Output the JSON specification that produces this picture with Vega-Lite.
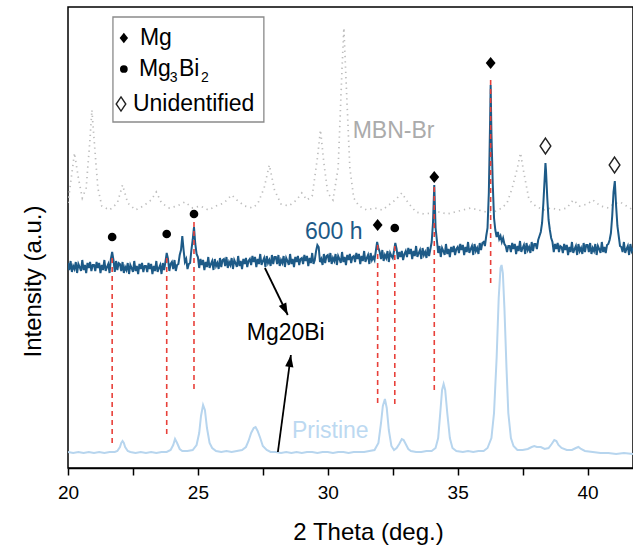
{
  "$schema": "https://vega.github.io/schema/vega-lite/v6.json",
  "width": 565,
  "height": 461,
  "autosize": "none",
  "padding": {"left": 68, "top": 7, "right": 0, "bottom": 79},
  "background": "white",
  "config": {
    "view": {"stroke": "black", "strokeWidth": 1.5},
    "font": "Liberation Sans"
  },
  "datasets": {
    "mbn": [
      {"x":20.0,"y":265},{"x":20.1,"y":285},{"x":20.25,"y":315},{"x":20.4,"y":290},{"x":20.55,"y":270},{"x":20.7,"y":280},{"x":20.85,"y":330},{"x":20.92,"y":358},{"x":21.0,"y":330},{"x":21.15,"y":280},{"x":21.3,"y":262},{"x":21.6,"y":258},{"x":21.9,"y":265},{"x":22.1,"y":283},{"x":22.3,"y":265},{"x":22.6,"y":258},{"x":22.9,"y":262},{"x":23.2,"y":268},{"x":23.4,"y":276},{"x":23.6,"y":265},{"x":23.9,"y":260},{"x":24.2,"y":262},{"x":24.5,"y":266},{"x":24.8,"y":260},{"x":25.1,"y":262},{"x":25.4,"y":258},{"x":25.7,"y":262},{"x":26.0,"y":265},{"x":26.3,"y":273},{"x":26.5,"y":268},{"x":26.8,"y":262},{"x":27.1,"y":260},{"x":27.3,"y":264},{"x":27.55,"y":280},{"x":27.75,"y":303},{"x":27.95,"y":278},{"x":28.2,"y":264},{"x":28.5,"y":262},{"x":28.8,"y":268},{"x":29.0,"y":275},{"x":29.2,"y":268},{"x":29.4,"y":272},{"x":29.6,"y":310},{"x":29.72,"y":338},{"x":29.85,"y":305},{"x":30.0,"y":275},{"x":30.2,"y":268},{"x":30.4,"y":300},{"x":30.55,"y":400},{"x":30.62,"y":440},{"x":30.7,"y":390},{"x":30.85,"y":300},{"x":31.0,"y":270},{"x":31.2,"y":262},{"x":31.5,"y":258},{"x":31.8,"y":260},{"x":32.1,"y":258},{"x":32.3,"y":262},{"x":32.6,"y":268},{"x":32.85,"y":275},{"x":33.1,"y":265},{"x":33.4,"y":256},{"x":33.7,"y":254},{"x":34.0,"y":255},{"x":34.3,"y":256},{"x":34.6,"y":254},{"x":34.9,"y":256},{"x":35.2,"y":258},{"x":35.5,"y":260},{"x":35.8,"y":258},{"x":36.1,"y":256},{"x":36.4,"y":256},{"x":36.7,"y":260},{"x":36.9,"y":265},{"x":37.1,"y":280},{"x":37.3,"y":300},{"x":37.42,"y":315},{"x":37.55,"y":295},{"x":37.75,"y":268},{"x":38.0,"y":262},{"x":38.3,"y":258},{"x":38.6,"y":260},{"x":38.9,"y":258},{"x":39.2,"y":260},{"x":39.45,"y":268},{"x":39.7,"y":262},{"x":40.0,"y":264},{"x":40.2,"y":268},{"x":40.5,"y":262},{"x":40.8,"y":260},{"x":41.0,"y":264},{"x":41.25,"y":266},{"x":41.5,"y":262},{"x":41.75,"y":258}
    ],
    "pristine": [
      {"x":20.0,"y":16},{"x":20.2,"y":15},{"x":20.4,"y":16},{"x":20.6,"y":15},{"x":20.8,"y":16},{"x":21.0,"y":15},{"x":21.2,"y":16},{"x":21.4,"y":15},{"x":21.6,"y":16},{"x":21.8,"y":16},{"x":21.9,"y":17},{"x":22.0,"y":21},{"x":22.05,"y":25},{"x":22.1,"y":27},{"x":22.15,"y":25},{"x":22.2,"y":21},{"x":22.3,"y":17},{"x":22.4,"y":16},{"x":22.6,"y":15},{"x":22.8,"y":16},{"x":23.0,"y":15},{"x":23.2,"y":16},{"x":23.4,"y":15},{"x":23.6,"y":16},{"x":23.8,"y":16},{"x":23.95,"y":18},{"x":24.05,"y":23},{"x":24.12,"y":29},{"x":24.2,"y":25},{"x":24.3,"y":19},{"x":24.4,"y":17},{"x":24.6,"y":17},{"x":24.8,"y":18},{"x":24.95,"y":23},{"x":25.05,"y":35},{"x":25.12,"y":52},{"x":25.2,"y":63},{"x":25.27,"y":58},{"x":25.35,"y":40},{"x":25.45,"y":25},{"x":25.55,"y":20},{"x":25.7,"y":17},{"x":25.9,"y":16},{"x":26.1,"y":17},{"x":26.3,"y":16},{"x":26.5,"y":17},{"x":26.7,"y":18},{"x":26.85,"y":21},{"x":26.95,"y":27},{"x":27.05,"y":35},{"x":27.15,"y":40},{"x":27.22,"y":41},{"x":27.3,"y":37},{"x":27.4,"y":30},{"x":27.5,"y":22},{"x":27.65,"y":18},{"x":27.8,"y":16},{"x":28.0,"y":16},{"x":28.2,"y":15},{"x":28.4,"y":16},{"x":28.6,"y":15},{"x":28.8,"y":16},{"x":29.0,"y":15},{"x":29.2,"y":16},{"x":29.4,"y":16},{"x":29.6,"y":15},{"x":29.8,"y":16},{"x":30.0,"y":16},{"x":30.2,"y":15},{"x":30.4,"y":16},{"x":30.6,"y":16},{"x":30.8,"y":15},{"x":31.0,"y":16},{"x":31.2,"y":16},{"x":31.4,"y":16},{"x":31.6,"y":17},{"x":31.8,"y":18},{"x":31.95,"y":25},{"x":32.05,"y":45},{"x":32.12,"y":62},{"x":32.2,"y":69},{"x":32.27,"y":60},{"x":32.35,"y":38},{"x":32.45,"y":22},{"x":32.55,"y":18},{"x":32.65,"y":20},{"x":32.75,"y":24},{"x":32.85,"y":29},{"x":32.92,"y":28},{"x":33.0,"y":24},{"x":33.1,"y":19},{"x":33.2,"y":17},{"x":33.4,"y":16},{"x":33.6,"y":16},{"x":33.8,"y":17},{"x":34.0,"y":17},{"x":34.15,"y":20},{"x":34.25,"y":30},{"x":34.33,"y":55},{"x":34.4,"y":78},{"x":34.46,"y":84},{"x":34.52,"y":78},{"x":34.6,"y":55},{"x":34.7,"y":30},{"x":34.8,"y":20},{"x":34.95,"y":17},{"x":35.2,"y":16},{"x":35.4,"y":17},{"x":35.6,"y":16},{"x":35.8,"y":17},{"x":36.0,"y":17},{"x":36.15,"y":20},{"x":36.3,"y":30},{"x":36.4,"y":55},{"x":36.5,"y":110},{"x":36.58,"y":170},{"x":36.65,"y":200},{"x":36.69,"y":203},{"x":36.74,"y":195},{"x":36.8,"y":160},{"x":36.88,"y":100},{"x":36.95,"y":55},{"x":37.05,"y":30},{"x":37.15,"y":22},{"x":37.3,"y":18},{"x":37.5,"y":18},{"x":37.7,"y":19},{"x":37.85,"y":21},{"x":37.95,"y":22},{"x":38.05,"y":21},{"x":38.2,"y":21},{"x":38.35,"y":19},{"x":38.5,"y":20},{"x":38.62,"y":24},{"x":38.72,"y":28},{"x":38.8,"y":27},{"x":38.88,"y":23},{"x":39.0,"y":20},{"x":39.2,"y":18},{"x":39.4,"y":18},{"x":39.55,"y":20},{"x":39.65,"y":21},{"x":39.75,"y":19},{"x":39.9,"y":17},{"x":40.2,"y":16},{"x":40.5,"y":15},{"x":40.8,"y":15},{"x":41.1,"y":14},{"x":41.4,"y":15},{"x":41.75,"y":14}
    ],
    "h600": [
      {"x":20.00,"y":205},{"x":20.05,"y":198},{"x":20.10,"y":207},{"x":20.15,"y":196},{"x":20.20,"y":202},{"x":20.25,"y":199},{"x":20.30,"y":206},{"x":20.35,"y":195},{"x":20.40,"y":204},{"x":20.45,"y":201},{"x":20.50,"y":197},{"x":20.55,"y":208},{"x":20.60,"y":198},{"x":20.65,"y":203},{"x":20.70,"y":195},{"x":20.75,"y":205},{"x":20.80,"y":200},{"x":20.85,"y":206},{"x":20.90,"y":197},{"x":20.95,"y":203},
      {"x":21.00,"y":203},{"x":21.05,"y":197},{"x":21.10,"y":206},{"x":21.15,"y":200},{"x":21.20,"y":205},{"x":21.25,"y":195},{"x":21.30,"y":203},{"x":21.35,"y":198},{"x":21.40,"y":208},{"x":21.45,"y":197},{"x":21.50,"y":201},{"x":21.55,"y":204},{"x":21.60,"y":195},{"x":21.65,"y":209},{"x":21.70,"y":216},{"x":21.75,"y":208},{"x":21.80,"y":196},{"x":21.85,"y":207},{"x":21.90,"y":198},{"x":21.95,"y":205},
      {"x":22.00,"y":204},{"x":22.05,"y":197},{"x":22.10,"y":206},{"x":22.15,"y":195},{"x":22.20,"y":201},{"x":22.25,"y":198},{"x":22.30,"y":205},{"x":22.35,"y":194},{"x":22.40,"y":203},{"x":22.45,"y":200},{"x":22.50,"y":196},{"x":22.55,"y":207},{"x":22.60,"y":197},{"x":22.65,"y":202},{"x":22.70,"y":194},{"x":22.75,"y":204},{"x":22.80,"y":199},{"x":22.85,"y":205},{"x":22.90,"y":196},{"x":22.95,"y":202},
      {"x":23.00,"y":202},{"x":23.05,"y":196},{"x":23.10,"y":205},{"x":23.15,"y":199},{"x":23.20,"y":204},{"x":23.25,"y":194},{"x":23.30,"y":202},{"x":23.35,"y":197},{"x":23.40,"y":207},{"x":23.45,"y":196},{"x":23.50,"y":200},{"x":23.55,"y":203},{"x":23.60,"y":194},{"x":23.65,"y":205},{"x":23.70,"y":198},{"x":23.75,"y":206},{"x":23.80,"y":215},{"x":23.85,"y":209},{"x":23.90,"y":197},{"x":23.95,"y":204},
      {"x":24.00,"y":206},{"x":24.05,"y":199},{"x":24.10,"y":208},{"x":24.15,"y":197},{"x":24.20,"y":203},{"x":24.25,"y":204},{"x":24.30,"y":213},{"x":24.35,"y":218},{"x":24.40,"y":232},{"x":24.45,"y":218},{"x":24.50,"y":206},{"x":24.55,"y":209},{"x":24.60,"y":199},{"x":24.65,"y":204},{"x":24.70,"y":205},{"x":24.75,"y":218},{"x":24.80,"y":228},{"x":24.85,"y":241},{"x":24.90,"y":224},{"x":24.95,"y":214},
      {"x":25.00,"y":211},{"x":25.05,"y":200},{"x":25.10,"y":209},{"x":25.15,"y":203},{"x":25.20,"y":208},{"x":25.25,"y":198},{"x":25.30,"y":206},{"x":25.35,"y":201},{"x":25.40,"y":211},{"x":25.45,"y":200},{"x":25.50,"y":204},{"x":25.55,"y":207},{"x":25.60,"y":198},{"x":25.65,"y":209},{"x":25.70,"y":202},{"x":25.75,"y":205},{"x":25.80,"y":199},{"x":25.85,"y":210},{"x":25.90,"y":201},{"x":25.95,"y":208},
      {"x":26.00,"y":209},{"x":26.05,"y":202},{"x":26.10,"y":211},{"x":26.15,"y":200},{"x":26.20,"y":206},{"x":26.25,"y":203},{"x":26.30,"y":210},{"x":26.35,"y":199},{"x":26.40,"y":208},{"x":26.45,"y":205},{"x":26.50,"y":201},{"x":26.55,"y":212},{"x":26.60,"y":202},{"x":26.65,"y":207},{"x":26.70,"y":199},{"x":26.75,"y":209},{"x":26.80,"y":204},{"x":26.85,"y":210},{"x":26.90,"y":201},{"x":26.95,"y":207},
      {"x":27.00,"y":209},{"x":27.05,"y":203},{"x":27.10,"y":212},{"x":27.15,"y":206},{"x":27.20,"y":211},{"x":27.25,"y":201},{"x":27.30,"y":209},{"x":27.35,"y":204},{"x":27.40,"y":214},{"x":27.45,"y":203},{"x":27.50,"y":207},{"x":27.55,"y":210},{"x":27.60,"y":201},{"x":27.65,"y":212},{"x":27.70,"y":205},{"x":27.75,"y":208},{"x":27.80,"y":202},{"x":27.85,"y":213},{"x":27.90,"y":204},{"x":27.95,"y":211},
      {"x":28.00,"y":211},{"x":28.05,"y":204},{"x":28.10,"y":213},{"x":28.15,"y":202},{"x":28.20,"y":208},{"x":28.25,"y":205},{"x":28.30,"y":212},{"x":28.35,"y":201},{"x":28.40,"y":210},{"x":28.45,"y":207},{"x":28.50,"y":203},{"x":28.55,"y":214},{"x":28.60,"y":204},{"x":28.65,"y":209},{"x":28.70,"y":201},{"x":28.75,"y":211},{"x":28.80,"y":206},{"x":28.85,"y":212},{"x":28.90,"y":203},{"x":28.95,"y":209},
      {"x":29.00,"y":210},{"x":29.05,"y":204},{"x":29.10,"y":213},{"x":29.15,"y":207},{"x":29.20,"y":212},{"x":29.25,"y":202},{"x":29.30,"y":210},{"x":29.35,"y":205},{"x":29.40,"y":215},{"x":29.45,"y":204},{"x":29.50,"y":208},{"x":29.55,"y":217},{"x":29.60,"y":223},{"x":29.65,"y":221},{"x":29.70,"y":206},{"x":29.75,"y":209},{"x":29.80,"y":203},{"x":29.85,"y":214},{"x":29.90,"y":205},{"x":29.95,"y":212},
      {"x":30.00,"y":213},{"x":30.05,"y":206},{"x":30.10,"y":215},{"x":30.15,"y":204},{"x":30.20,"y":210},{"x":30.25,"y":207},{"x":30.30,"y":214},{"x":30.35,"y":203},{"x":30.40,"y":212},{"x":30.45,"y":209},{"x":30.50,"y":205},{"x":30.55,"y":216},{"x":30.60,"y":206},{"x":30.65,"y":211},{"x":30.70,"y":203},{"x":30.75,"y":213},{"x":30.80,"y":208},{"x":30.85,"y":214},{"x":30.90,"y":205},{"x":30.95,"y":211},
      {"x":31.00,"y":212},{"x":31.05,"y":206},{"x":31.10,"y":215},{"x":31.15,"y":209},{"x":31.20,"y":214},{"x":31.25,"y":204},{"x":31.30,"y":212},{"x":31.35,"y":207},{"x":31.40,"y":217},{"x":31.45,"y":206},{"x":31.50,"y":210},{"x":31.55,"y":213},{"x":31.60,"y":204},{"x":31.65,"y":215},{"x":31.70,"y":208},{"x":31.75,"y":211},{"x":31.80,"y":208},{"x":31.85,"y":217},{"x":31.90,"y":226},{"x":31.95,"y":220},
      {"x":32.00,"y":216},{"x":32.05,"y":209},{"x":32.10,"y":218},{"x":32.15,"y":207},{"x":32.20,"y":213},{"x":32.25,"y":210},{"x":32.30,"y":217},{"x":32.35,"y":206},{"x":32.40,"y":215},{"x":32.45,"y":212},{"x":32.50,"y":210},{"x":32.55,"y":217},{"x":32.60,"y":225},{"x":32.65,"y":219},{"x":32.70,"y":209},{"x":32.75,"y":216},{"x":32.80,"y":211},{"x":32.85,"y":217},{"x":32.90,"y":208},{"x":32.95,"y":214},
      {"x":33.00,"y":217},{"x":33.05,"y":211},{"x":33.10,"y":220},{"x":33.15,"y":214},{"x":33.20,"y":219},{"x":33.25,"y":209},{"x":33.30,"y":217},{"x":33.35,"y":212},{"x":33.40,"y":222},{"x":33.45,"y":211},{"x":33.50,"y":215},{"x":33.55,"y":218},{"x":33.60,"y":209},{"x":33.65,"y":220},{"x":33.70,"y":213},{"x":33.75,"y":216},{"x":33.80,"y":210},{"x":33.85,"y":221},{"x":33.90,"y":212},{"x":33.95,"y":219},
      {"x":34.00,"y":226},{"x":34.05,"y":245},{"x":34.10,"y":283},{"x":34.15,"y":240},{"x":34.20,"y":228},{"x":34.25,"y":215},{"x":34.30,"y":222},{"x":34.35,"y":211},{"x":34.40,"y":220},{"x":34.45,"y":217},{"x":34.50,"y":213},{"x":34.55,"y":224},{"x":34.60,"y":214},{"x":34.65,"y":219},{"x":34.70,"y":211},{"x":34.75,"y":221},{"x":34.80,"y":216},{"x":34.85,"y":222},{"x":34.90,"y":213},{"x":34.95,"y":219},
      {"x":35.00,"y":221},{"x":35.05,"y":215},{"x":35.10,"y":224},{"x":35.15,"y":218},{"x":35.20,"y":223},{"x":35.25,"y":213},{"x":35.30,"y":221},{"x":35.35,"y":216},{"x":35.40,"y":226},{"x":35.45,"y":215},{"x":35.50,"y":219},{"x":35.55,"y":222},{"x":35.60,"y":213},{"x":35.65,"y":224},{"x":35.70,"y":217},{"x":35.75,"y":220},{"x":35.80,"y":214},{"x":35.85,"y":225},{"x":35.90,"y":218},{"x":35.95,"y":225},
      {"x":36.00,"y":226},{"x":36.05,"y":222},{"x":36.10,"y":232},{"x":36.15,"y":240},{"x":36.20,"y":275},{"x":36.25,"y":348},{"x":36.27,"y":383},{"x":36.30,"y":335},{"x":36.35,"y":285},{"x":36.40,"y":250},{"x":36.45,"y":238},{"x":36.50,"y":231},{"x":36.55,"y":236},{"x":36.60,"y":229},{"x":36.65,"y":232},{"x":36.70,"y":226},{"x":36.75,"y":230},{"x":36.80,"y":224},{"x":36.85,"y":222},{"x":36.90,"y":216},{"x":36.95,"y":222},
      {"x":37.00,"y":222},{"x":37.05,"y":216},{"x":37.10,"y":225},{"x":37.15,"y":219},{"x":37.20,"y":224},{"x":37.25,"y":214},{"x":37.30,"y":222},{"x":37.35,"y":217},{"x":37.40,"y":227},{"x":37.45,"y":216},{"x":37.50,"y":220},{"x":37.55,"y":223},{"x":37.60,"y":214},{"x":37.65,"y":225},{"x":37.70,"y":218},{"x":37.75,"y":221},{"x":37.80,"y":215},{"x":37.85,"y":226},{"x":37.90,"y":217},{"x":37.95,"y":224},
      {"x":38.00,"y":224},{"x":38.05,"y":219},{"x":38.10,"y":228},{"x":38.15,"y":232},{"x":38.20,"y":236},{"x":38.25,"y":245},{"x":38.30,"y":265},{"x":38.35,"y":290},{"x":38.38,"y":305},{"x":38.40,"y":298},{"x":38.45,"y":270},{"x":38.50,"y":248},{"x":38.55,"y":238},{"x":38.60,"y":230},{"x":38.65,"y":226},{"x":38.70,"y":216},{"x":38.75,"y":224},{"x":38.80,"y":219},{"x":38.85,"y":225},{"x":38.90,"y":216},{"x":38.95,"y":222},
      {"x":39.00,"y":221},{"x":39.05,"y":215},{"x":39.10,"y":224},{"x":39.15,"y":218},{"x":39.20,"y":223},{"x":39.25,"y":213},{"x":39.30,"y":221},{"x":39.35,"y":216},{"x":39.40,"y":226},{"x":39.45,"y":215},{"x":39.50,"y":219},{"x":39.55,"y":222},{"x":39.60,"y":213},{"x":39.65,"y":224},{"x":39.70,"y":217},{"x":39.75,"y":220},{"x":39.80,"y":214},{"x":39.85,"y":225},{"x":39.90,"y":216},{"x":39.95,"y":223},
      {"x":40.00,"y":223},{"x":40.05,"y":216},{"x":40.10,"y":225},{"x":40.15,"y":214},{"x":40.20,"y":220},{"x":40.25,"y":217},{"x":40.30,"y":224},{"x":40.35,"y":213},{"x":40.40,"y":222},{"x":40.45,"y":219},{"x":40.50,"y":215},{"x":40.55,"y":226},{"x":40.60,"y":216},{"x":40.65,"y":221},{"x":40.70,"y":215},{"x":40.75,"y":223},{"x":40.80,"y":224},{"x":40.85,"y":228},{"x":40.90,"y":235},{"x":40.95,"y":252},
      {"x":41.00,"y":276},{"x":41.05,"y":287},{"x":41.10,"y":262},{"x":41.15,"y":242},{"x":41.20,"y":232},{"x":41.25,"y":222},{"x":41.30,"y":221},{"x":41.35,"y":216},{"x":41.40,"y":226},{"x":41.45,"y":215},{"x":41.50,"y":219},{"x":41.55,"y":222},{"x":41.60,"y":213},{"x":41.65,"y":224},{"x":41.70,"y":217},{"x":41.75,"y":220}
    ],
    "refs": [
      {"x":21.7,"top":210,"bottom":25},
      {"x":23.8,"top":210,"bottom":30},
      {"x":24.85,"top":246,"bottom":75},
      {"x":31.92,"top":223,"bottom":61},
      {"x":32.58,"top":222,"bottom":60},
      {"x":34.1,"top":281,"bottom":78},
      {"x":36.27,"top":388,"bottom":183}
    ],
    "markers": [
      {"x":21.7,"y":231,"kind":"Mg3Bi2"},
      {"x":23.8,"y":234,"kind":"Mg3Bi2"},
      {"x":24.85,"y":254,"kind":"Mg3Bi2"},
      {"x":32.58,"y":240,"kind":"Mg3Bi2"},
      {"x":31.92,"y":243,"kind":"Mg"},
      {"x":34.1,"y":291,"kind":"Mg"},
      {"x":36.27,"y":405,"kind":"Mg"},
      {"x":38.38,"y":322,"kind":"Unidentified"},
      {"x":41.04,"y":303,"kind":"Unidentified"},
      {"x":22.15,"y":430,"kind":"legMg"},
      {"x":22.15,"y":399,"kind":"legMg3Bi2"},
      {"x":22.04,"y":364,"kind":"legUnid"}
    ],
    "arrows": [
      {"x":27.58,"y":200,"x2":28.46,"y2":153,"ang":154},
      {"x":28.08,"y":16,"x2":28.58,"y2":113,"ang":7.6}
    ],
    "labels": [
      {"x":30.96,"y":337,"text":"MBN-Br","c":"mbn"},
      {"x":29.12,"y":236,"text":"600 h","c":"h600"},
      {"x":28.62,"y":37,"text":"Pristine","c":"pristine"},
      {"x":26.88,"y":135,"text":"Mg20Bi","c":"black"},
      {"x":22.77,"y":430,"text":"Mg","c":"black"},
      {"x":22.73,"y":399,"text":"Mg","c":"black"},
      {"x":24.27,"y":399,"text":"Bi","c":"black"},
      {"x":22.5,"y":364,"text":"Unidentified","c":"black"}
    ],
    "subs": [
      {"x":23.92,"y":390,"text":"3"},
      {"x":25.12,"y":390,"text":"2"}
    ],
    "box": [
      {"x":21.73,"x2":27.54,"y":451,"y2":346}
    ]
  },
  "encoding": {
    "x": {
      "field": "x", "type": "quantitative",
      "scale": {"domain": [20, 41.75], "nice": false, "zero": false},
      "axis": {
        "title": "2 Theta (deg.)",
        "titleFontSize": 24, "titleFontWeight": "normal", "titleColor": "black",
        "titleX": 300, "titleY": 71, "titleBaseline": "alphabetic", "titleAnchor": "middle",
        "values": [20, 22.5, 25, 27.5, 30, 32.5, 35, 37.5, 40],
        "labelExpr": "datum.value % 5 === 0 ? datum.label : ''",
        "labelFontSize": 19, "labelColor": "black", "labelPadding": 8,
        "tickColor": "black", "tickSize": 7, "tickWidth": 1.5,
        "domainColor": "black", "domainWidth": 1.5,
        "grid": false, "labelFlush": false, "labelOverlap": false
      }
    },
    "y": {
      "field": "y", "type": "quantitative",
      "scale": {"domain": [0, 461], "nice": false, "zero": false},
      "axis": {
        "title": "Intensity (a.u.)",
        "titleFontSize": 24, "titleFontWeight": "normal", "titleColor": "black",
        "titleAngle": -90, "titleX": -28, "titleY": 274, "titleBaseline": "alphabetic", "titleAnchor": "middle",
        "labels": false, "ticks": false, "domain": false, "grid": false
      }
    }
  },
  "layer": [
    {
      "data": {"name": "mbn"},
      "mark": {"type": "line", "color": "#bdbdbd", "strokeWidth": 1.7, "strokeDash": [1.3, 4], "clip": true}
    },
    {
      "data": {"name": "pristine"},
      "mark": {"type": "line", "color": "#b7d5ee", "strokeWidth": 2, "clip": true}
    },
    {
      "data": {"name": "h600"},
      "mark": {"type": "line", "color": "#1d5a87", "strokeWidth": 2, "clip": true}
    },
    {
      "data": {"name": "refs"},
      "mark": {"type": "rule", "color": "#e8403a", "strokeWidth": 1.6, "strokeDash": [5, 4]},
      "encoding": {"y": {"field": "top", "type": "quantitative"}, "y2": {"field": "bottom"}}
    },
    {
      "data": {"name": "arrows"},
      "mark": {"type": "rule", "color": "black", "strokeWidth": 1.8},
      "encoding": {"x2": {"field": "x2"}, "y2": {"field": "y2"}}
    },
    {
      "data": {"name": "arrows"},
      "mark": {"type": "point", "shape": "M0,0L-0.38,1.1L0.38,1.1Z", "filled": true, "color": "black", "opacity": 1, "size": 475},
      "encoding": {
        "x": {"field": "x2", "type": "quantitative"},
        "y": {"field": "y2", "type": "quantitative"},
        "angle": {"field": "ang", "type": "quantitative", "scale": null}
      }
    },
    {
      "data": {"name": "box"},
      "mark": {"type": "rect", "fill": "white", "stroke": "#8a8a8a", "strokeWidth": 1.3},
      "encoding": {"x2": {"field": "x2"}, "y2": {"field": "y2"}}
    },
    {
      "data": {"name": "markers"},
      "transform": [{"filter": "datum.kind === 'Mg3Bi2' || datum.kind === 'legMg3Bi2'"}],
      "mark": {"type": "point", "shape": "circle", "filled": true, "color": "black", "opacity": 1},
      "encoding": {"size": {"condition": {"test": "datum.kind === 'legMg3Bi2'", "value": 60}, "value": 75}}
    },
    {
      "data": {"name": "markers"},
      "transform": [{"filter": "datum.kind === 'Mg' || datum.kind === 'legMg'"}],
      "mark": {"type": "point", "shape": "M0,-1L0.8,0L0,1L-0.8,0Z", "filled": true, "color": "black", "opacity": 1},
      "encoding": {"size": {"condition": {"test": "datum.kind === 'legMg'", "value": 110}, "value": 150}}
    },
    {
      "data": {"name": "markers"},
      "transform": [{"filter": "datum.kind === 'Unidentified' || datum.kind === 'legUnid'"}],
      "mark": {"type": "point", "shape": "M0,-1L0.68,0L0,1L-0.68,0Z", "filled": false, "fill": "white", "stroke": "#222222", "strokeWidth": 1.4, "opacity": 1},
      "encoding": {"size": {"condition": {"test": "datum.kind === 'legUnid'", "value": 200}, "value": 250}}
    },
    {
      "data": {"name": "labels"},
      "mark": {"type": "text", "align": "left", "baseline": "middle", "fontSize": 23},
      "encoding": {
        "text": {"field": "text"},
        "color": {
          "field": "c", "type": "nominal", "legend": null,
          "scale": {"domain": ["mbn", "h600", "pristine", "black"], "range": ["#ababab", "#1d5a87", "#bcd9f1", "#000000"]}
        }
      }
    },
    {
      "data": {"name": "subs"},
      "mark": {"type": "text", "align": "left", "baseline": "middle", "fontSize": 14, "color": "black"},
      "encoding": {"text": {"field": "text"}}
    }
  ]
}
